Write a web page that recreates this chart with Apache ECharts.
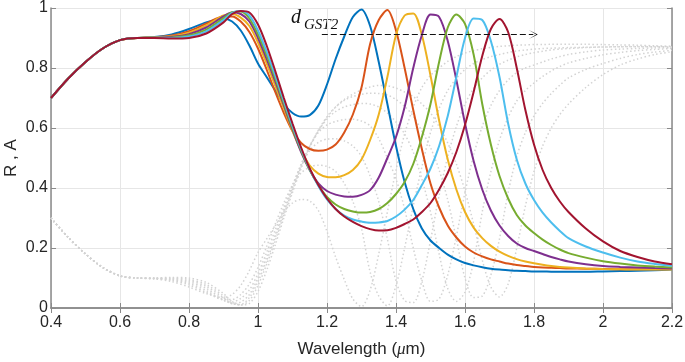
<!DOCTYPE html>
<html>
<head>
<meta charset="utf-8">
<script src="https://cdn.jsdelivr.net/npm/echarts@6/dist/echarts.min.js"></script>
<style>
  html, body { margin: 0; padding: 0; background: #fff; }
  #chart { width: 685px; height: 362px; }
</style>
</head>
<body>
<div id="chart"></div>
<script>
// wavelength grid (um)
var xs = [0.4,0.45,0.5,0.55,0.6,0.65,0.7,0.75,0.8,0.85,0.9,
  0.925,0.95,0.975,1,1.025,1.05,1.075,1.1,1.125,1.15,1.175,1.2,1.225,1.25,1.275,1.3,1.325,1.35,1.375,
  1.4,1.425,1.45,1.475,1.5,1.525,1.55,1.575,1.6,1.625,1.65,1.675,1.7,1.725,1.75,1.775,1.8,1.825,1.85,1.875,1.9,
  1.95,2,2.05,2.1,2.15,2.2]

// reflectance R, one curve per d_GST2
var r1 = [0.70,0.765,0.82,0.865,0.893,0.90,0.903, 0.912,0.93,0.952,0.965,0.955,0.925,0.875, 0.815,0.77,0.725,0.68,0.65,0.638,0.643, 0.675,0.745,0.83,0.905,0.97,0.995,0.94, 0.82,0.68,0.54,0.42,0.33,0.265,0.225, 0.2,0.178,0.162,0.15,0.142,0.136,0.131, 0.128,0.126,0.124,0.123,0.122,0.122,0.121, 0.121,0.121,0.121,0.122,0.123,0.124,0.126, 0.128]
var r2 = [0.70,0.765,0.82,0.865,0.893,0.90,0.902, 0.908,0.923,0.948,0.972,0.972,0.955,0.92, 0.865,0.795,0.72,0.65,0.59,0.55,0.53, 0.524,0.528,0.545,0.585,0.645,0.735,0.88, 0.96,0.993,0.925,0.80,0.66,0.53,0.415, 0.335,0.275,0.235,0.205,0.185,0.172,0.162, 0.155,0.148,0.143,0.14,0.137,0.135,0.134, 0.133,0.132,0.131,0.13,0.129,0.129,0.129, 0.13]
var r3 = [0.70,0.765,0.82,0.865,0.893,0.90,0.902, 0.906,0.918,0.942,0.975,0.98,0.968,0.94, 0.885,0.815,0.74,0.665,0.59,0.525,0.475, 0.448,0.437,0.436,0.443,0.46,0.495,0.56, 0.645,0.77,0.91,0.975,0.982,0.91,0.775, 0.625,0.495,0.395,0.32,0.268,0.233,0.207, 0.188,0.174,0.163,0.155,0.149,0.144,0.14, 0.137,0.135,0.132,0.13,0.129,0.128,0.128, 0.128]
var r4 = [0.70,0.765,0.82,0.865,0.893,0.90,0.901, 0.904,0.913,0.935,0.972,0.985,0.98,0.955, 0.90,0.83,0.755,0.675,0.595,0.52,0.46, 0.415,0.39,0.378,0.372,0.371,0.377,0.393, 0.435,0.50,0.57,0.67,0.80,0.91,0.978, 0.97,0.89,0.76,0.615,0.49,0.395,0.325, 0.275,0.24,0.215,0.2,0.19,0.18,0.17, 0.162,0.155,0.146,0.14,0.137,0.135,0.133, 0.132]
var r5 = [0.70,0.765,0.82,0.865,0.893,0.90,0.901, 0.902,0.909,0.928,0.966,0.986,0.988,0.965, 0.912,0.843,0.765,0.682,0.60,0.525,0.46, 0.41,0.37,0.345,0.33,0.322,0.318,0.32, 0.33,0.35,0.38,0.42,0.48,0.57,0.68, 0.82,0.935,0.978,0.947,0.845,0.68,0.545, 0.44,0.365,0.31,0.275,0.25,0.228,0.21, 0.195,0.183,0.168,0.156,0.148,0.142,0.138, 0.135]
var r6 = [0.70,0.765,0.82,0.865,0.893,0.90,0.901, 0.90,0.905,0.922,0.96,0.984,0.99,0.975, 0.925,0.855,0.775,0.69,0.607,0.53,0.462, 0.407,0.362,0.33,0.308,0.295,0.288,0.284, 0.285,0.29,0.305,0.328,0.36,0.41,0.465, 0.54,0.64,0.77,0.90,0.965,0.96,0.89, 0.77,0.615,0.495,0.415,0.36,0.318,0.285, 0.257,0.233,0.205,0.185,0.168,0.155,0.147, 0.141]
var r7 = [0.70,0.765,0.82,0.865,0.893,0.90,0.90, 0.898,0.90,0.915,0.952,0.98,0.99,0.985, 0.945,0.875,0.79,0.70,0.615,0.535,0.465, 0.41,0.365,0.33,0.305,0.287,0.273,0.263, 0.258,0.259,0.267,0.28,0.295,0.32,0.35, 0.395,0.45,0.52,0.61,0.72,0.84,0.93, 0.963,0.92,0.80,0.66,0.545,0.46,0.40, 0.355,0.32,0.265,0.222,0.19,0.17,0.155, 0.146]

// absorptance A (grey dotted)
var a1 = [0.30,0.235,0.18,0.135,0.107,0.10,0.097, 0.088,0.07,0.048,0.035,0.045,0.075,0.125, 0.185,0.23,0.275,0.32,0.35,0.362,0.357, 0.325,0.255,0.17,0.095,0.03,0.005,0.06, 0.18,0.32,0.46,0.58,0.67,0.735,0.775, 0.8,0.822,0.838,0.85,0.858,0.864,0.869, 0.872,0.874,0.876,0.877,0.878,0.878,0.879, 0.879,0.879,0.879,0.878,0.877,0.876,0.874, 0.872]
var a2 = [0.30,0.235,0.18,0.135,0.107,0.10,0.098, 0.092,0.077,0.052,0.028,0.028,0.045,0.08, 0.135,0.205,0.28,0.35,0.41,0.45,0.47, 0.476,0.472,0.455,0.415,0.355,0.265,0.12, 0.04,0.007,0.075,0.2,0.34,0.47,0.585, 0.665,0.725,0.765,0.795,0.815,0.828,0.838, 0.845,0.852,0.857,0.86,0.863,0.865,0.866, 0.867,0.868,0.869,0.87,0.871,0.871,0.871, 0.87]
var a3 = [0.30,0.235,0.18,0.135,0.107,0.10,0.098, 0.094,0.082,0.058,0.025,0.02,0.032,0.06, 0.115,0.185,0.26,0.335,0.41,0.475,0.525, 0.552,0.563,0.564,0.557,0.54,0.505,0.44, 0.355,0.23,0.09,0.025,0.018,0.09,0.225, 0.375,0.505,0.605,0.68,0.732,0.767,0.793, 0.812,0.826,0.837,0.845,0.851,0.856,0.86, 0.863,0.865,0.868,0.87,0.871,0.872,0.872, 0.872]
var a4 = [0.30,0.235,0.18,0.135,0.107,0.10,0.099, 0.096,0.087,0.065,0.028,0.015,0.02,0.045, 0.10,0.17,0.245,0.325,0.405,0.48,0.54, 0.585,0.61,0.622,0.628,0.629,0.623,0.607, 0.565,0.50,0.43,0.33,0.20,0.09,0.022, 0.03,0.11,0.24,0.385,0.51,0.605,0.675, 0.725,0.76,0.785,0.80,0.81,0.82,0.83, 0.838,0.845,0.854,0.86,0.863,0.865,0.867, 0.868]
var a5 = [0.30,0.235,0.18,0.135,0.107,0.10,0.099, 0.098,0.091,0.072,0.034,0.014,0.012,0.035, 0.088,0.157,0.235,0.318,0.40,0.475,0.54, 0.59,0.63,0.655,0.67,0.678,0.682,0.68, 0.67,0.65,0.62,0.58,0.52,0.43,0.32, 0.18,0.065,0.022,0.053,0.155,0.32,0.455, 0.56,0.635,0.69,0.725,0.75,0.772,0.79, 0.805,0.817,0.832,0.844,0.852,0.858,0.862, 0.865]
var a6 = [0.30,0.235,0.18,0.135,0.107,0.10,0.099, 0.10,0.095,0.078,0.04,0.016,0.01,0.025, 0.075,0.145,0.225,0.31,0.393,0.47,0.538, 0.593,0.638,0.67,0.692,0.705,0.712,0.716, 0.715,0.71,0.695,0.672,0.64,0.59,0.535, 0.46,0.36,0.23,0.10,0.035,0.04,0.11, 0.23,0.385,0.505,0.585,0.64,0.682,0.715, 0.743,0.767,0.795,0.815,0.832,0.845,0.853, 0.859]
var a7 = [0.30,0.235,0.18,0.135,0.107,0.10,0.10, 0.102,0.10,0.085,0.048,0.02,0.01,0.015, 0.055,0.125,0.21,0.30,0.385,0.465,0.535, 0.59,0.635,0.67,0.695,0.713,0.727,0.737, 0.742,0.741,0.733,0.72,0.705,0.68,0.65, 0.605,0.55,0.48,0.39,0.28,0.16,0.07, 0.037,0.08,0.20,0.34,0.455,0.54,0.60, 0.645,0.68,0.735,0.778,0.81,0.83,0.845, 0.854]

var colors = ['#0072BD', '#D95319', '#EDB120', '#7E2F8E', '#77AC30', '#4DBEEE', '#A2142F']
var rSets = [r1, r2, r3, r4, r5, r6, r7]
var aSets = [a1, a2, a3, a4, a5, a6, a7]

var axisGrey = '#8a8a8a'
var textDark = '#262626'

function pairs(ys) {
  return xs.map(function (x, i) { return [x, ys[i]] })
}

var series = []
aSets.forEach(function (a, k) {
  series.push({
    name: 'A' + (k + 1),
    type: 'line',
    data: pairs(a),
    showSymbol: false,
    smooth: 0.3,
    silent: true,
    z: 1,
    lineStyle: { color: '#d3d3d3', width: 1.5, type: [1.5, 2.5] }
  })
})
rSets.forEach(function (r, k) {
  series.push({
    name: 'R' + (k + 1),
    type: 'line',
    data: pairs(r),
    showSymbol: false,
    smooth: 0.3,
    silent: true,
    z: 3,
    lineStyle: { color: colors[k], width: 2 }
  })
})
// dashed arrow showing the shift with d_GST2
series.push({
  type: 'line',
  data: [[1.185, 0.912]],
  showSymbol: false,
  silent: true,
  z: 4,
  lineStyle: { width: 0 },
  markLine: {
    silent: true,
    symbol: ['none', 'path://M0,10 L5,0 L10,10 L5,1.8 Z'],
    symbolSize: [9, 9],
    label: { show: false },
    lineStyle: { color: '#111', width: 1.2, type: [6, 3] },
    data: [[{ coord: [1.185, 0.912] }, { coord: [1.798, 0.912] }]]
  }
})

var chart = echarts.init(document.getElementById('chart'))
var option = {
  animation: false,
  backgroundColor: '#fff',
  grid: { left: 51, right: 13, top: 8, bottom: 54, outerBoundsMode: 'none' },
  xAxis: [
    {
      type: 'value',
      min: 0.4, max: 2.2, interval: 0.2,
      name: '{n|Wavelength (}{i|μ}{n|m)}',
      nameLocation: 'middle',
      nameGap: 33,
      nameMoveOverlap: false,
      nameTextStyle: {
        rich: {
          n: { fontSize: 17, color: textDark, fontFamily: 'Liberation Sans' },
          i: { fontSize: 17, color: textDark, fontFamily: 'Liberation Serif', fontStyle: 'italic' }
        }
      },
      axisLine: { show: true, lineStyle: { color: axisGrey, width: 1.5 } },
      axisTick: { show: true, inside: true, length: 5, lineStyle: { color: axisGrey } },
      axisLabel: { color: textDark, fontSize: 16, fontFamily: 'Liberation Sans', margin: 7 },
      splitLine: { show: true, lineStyle: { color: '#e6e6e6', width: 1 } }
    },
    {
      type: 'value', position: 'top',
      min: 0.4, max: 2.2, interval: 0.2,
      axisLine: { show: true, lineStyle: { color: axisGrey, width: 1.5 } },
      axisTick: { show: true, inside: true, length: 5, lineStyle: { color: axisGrey } },
      axisLabel: { show: false },
      splitLine: { show: false }
    }
  ],
  yAxis: [
    {
      type: 'value',
      min: 0, max: 1, interval: 0.2,
      name: 'R , A',
      nameLocation: 'middle',
      nameGap: 31,
      nameMoveOverlap: false,
      nameTextStyle: { fontSize: 17, color: textDark, fontFamily: 'Liberation Sans' },
      axisLine: { show: true, lineStyle: { color: axisGrey, width: 1.5 } },
      axisTick: { show: true, inside: true, length: 5, lineStyle: { color: axisGrey } },
      axisLabel: { color: textDark, fontSize: 16, fontFamily: 'Liberation Sans', margin: 3 },
      splitLine: { show: true, lineStyle: { color: '#e6e6e6', width: 1 } }
    },
    {
      type: 'value', position: 'right',
      min: 0, max: 1, interval: 0.2,
      axisLine: { show: true, lineStyle: { color: axisGrey, width: 1.5 } },
      axisTick: { show: true, inside: true, length: 5, lineStyle: { color: axisGrey } },
      axisLabel: { show: false },
      splitLine: { show: false }
    }
  ],
  graphic: [
    {
      type: 'text', left: 291, top: 8, silent: true,
      style: { text: 'd', font: 'italic 20px "Liberation Serif"', fill: '#111' }
    },
    {
      type: 'text', left: 304, top: 18, silent: true,
      style: { text: 'GST2', font: 'italic 15px "Liberation Serif"', fill: '#111' }
    }
  ],
  series: series
}
chart.setOption(option)
</script>
</body>
</html>
